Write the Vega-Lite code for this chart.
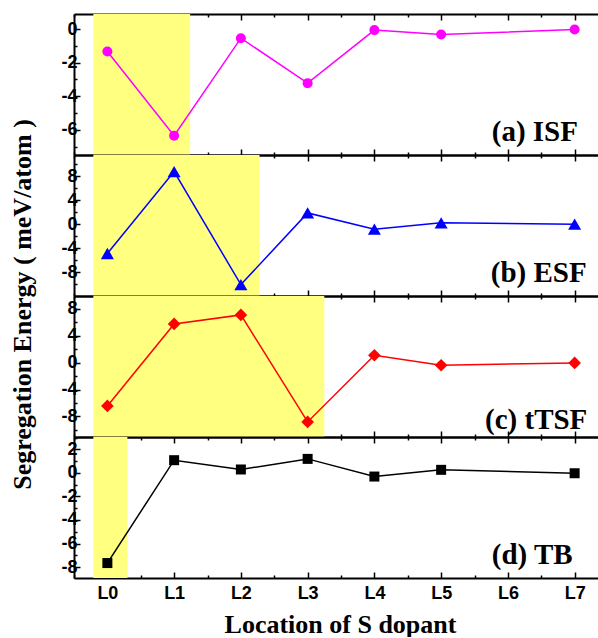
{
  "$schema": "https://vega.github.io/schema/vega-lite/v6.json",
  "autosize": {"type": "pad"},
  "padding": {"left": 8, "top": 13, "right": 0, "bottom": 0},
  "background": "white",
  "spacing": 0,
  "bounds": "flush",
  "config": {
    "view": {"stroke": null},
    "axis": {"grid": false, "domainColor": "black", "domainWidth": 2, "tickColor": "black", "tickWidth": 1.5}
  },
  "datasets": {
    "pts": [
      {"panel": "a", "loc": 0, "value": -1.33}, {"panel": "a", "loc": 1, "value": -6.35}, {"panel": "a", "loc": 2, "value": -0.54}, {"panel": "a", "loc": 3, "value": -3.22}, {"panel": "a", "loc": 4, "value": -0.06}, {"panel": "a", "loc": 5, "value": -0.32}, {"panel": "a", "loc": 7, "value": -0.02},
      {"panel": "b", "loc": 0, "value": -4.9}, {"panel": "b", "loc": 1, "value": 8.77}, {"panel": "b", "loc": 2, "value": -10.1}, {"panel": "b", "loc": 3, "value": 1.88}, {"panel": "b", "loc": 4, "value": -0.83}, {"panel": "b", "loc": 5, "value": 0.22}, {"panel": "b", "loc": 7, "value": 0.0},
      {"panel": "c", "loc": 0, "value": -6.43}, {"panel": "c", "loc": 1, "value": 5.75}, {"panel": "c", "loc": 2, "value": 7.09}, {"panel": "c", "loc": 3, "value": -8.81}, {"panel": "c", "loc": 4, "value": 1.1}, {"panel": "c", "loc": 5, "value": -0.39}, {"panel": "c", "loc": 7, "value": -0.04},
      {"panel": "d", "loc": 0, "value": -7.66}, {"panel": "d", "loc": 1, "value": 1.08}, {"panel": "d", "loc": 2, "value": 0.29}, {"panel": "d", "loc": 3, "value": 1.19}, {"panel": "d", "loc": 4, "value": -0.31}, {"panel": "d", "loc": 5, "value": 0.26}, {"panel": "d", "loc": 7, "value": -0.03}
    ],
    "shade": [
      {"panel": "a", "x0": -0.21, "x1": 1.24},
      {"panel": "b", "x0": -0.21, "x1": 2.28},
      {"panel": "c", "x0": -0.21, "x1": 3.25},
      {"panel": "d", "x0": -0.21, "x1": 0.3}
    ],
    "labels": [
      {"panel": "a", "x": 7.05, "y": -6.65, "label": "(a) ISF"},
      {"panel": "b", "x": 7.18, "y": -9.6, "label": "(b) ESF"},
      {"panel": "c", "x": 7.19, "y": -9.9, "label": "(c) tTSF"},
      {"panel": "d", "x": 6.97, "y": -7.72, "label": "(d) TB"}
    ]
  },
  "vconcat": [
    {
      "width": 526, "height": 141,
      "resolve": {"axis": {"x": "independent", "y": "independent"}},
      "layer": [
        {"data": {"name": "shade"}, "transform": [{"filter": "datum.panel == 'a'"}],
         "mark": {"type": "rect", "color": "#ffff80"},
         "encoding": {
           "x": {"field": "x0", "type": "quantitative", "scale": {"domain": [-0.5, 7.38], "nice": false, "zero": false},
                 "axis": {"orient": "bottom", "values": [-0.5,0,0.5,1,1.5,2,2.5,3,3.5,4,4.5,5,5.5,6,6.5,7], "labels": false, "title": null,
                          "tickSize": {"condition": {"test": "datum.value % 1 === 0", "value": -6}, "value": -3}}},
           "x2": {"field": "x1"}}},
        {"data": {"name": "pts"}, "transform": [{"filter": "datum.panel == 'a'"}],
         "mark": {"type": "line", "color": "#ff00ff", "strokeWidth": 1.5},
         "encoding": {
           "x": {"field": "loc", "type": "quantitative",
                 "axis": {"orient": "top", "values": [-0.5,0,0.5,1,1.5,2,2.5,3,3.5,4,4.5,5,5.5,6,6.5,7], "labels": false, "title": null,
                          "tickSize": {"condition": {"test": "datum.value % 1 === 0", "value": -6}, "value": -3}}},
           "y": {"field": "value", "type": "quantitative", "scale": {"domain": [-7.5, 0.9], "nice": false, "zero": false},
                 "axis": {"orient": "left", "values": [-7,-6,-5,-4,-3,-2,-1,0], "title": null,
                          "labelExpr": "datum.value % 2 === 0 ? '' + datum.value : ''",
                          "labelFont": "Liberation Sans", "labelFontWeight": "bold", "labelFontSize": 18, "labelColor": "black", "labelPadding": 3,
                          "tickSize": {"condition": {"test": "datum.value % 2 === 0", "value": -6}, "value": -3}}}}},
        {"data": {"name": "pts"}, "transform": [{"filter": "datum.panel == 'a'"}],
         "mark": {"type": "point", "shape": "circle", "filled": true, "size": 100, "color": "#ff00ff", "opacity": 1},
         "encoding": {"x": {"field": "loc", "type": "quantitative", "axis": null}, "y": {"field": "value", "type": "quantitative", "axis": null}}},
        {"data": {"name": "labels"}, "transform": [{"filter": "datum.panel == 'a'"}],
         "mark": {"type": "text", "align": "right", "baseline": "alphabetic", "font": "Liberation Serif", "fontWeight": "bold", "fontSize": 29, "color": "black"},
         "encoding": {"x": {"field": "x", "type": "quantitative", "axis": null}, "y": {"field": "y", "type": "quantitative", "axis": null}, "text": {"field": "label"}}}
      ]
    },
    {
      "width": 526, "height": 141,
      "resolve": {"axis": {"x": "independent", "y": "independent"}},
      "layer": [
        {"data": {"name": "shade"}, "transform": [{"filter": "datum.panel == 'b'"}],
         "mark": {"type": "rect", "color": "#ffff80"},
         "encoding": {
           "x": {"field": "x0", "type": "quantitative", "scale": {"domain": [-0.5, 7.38], "nice": false, "zero": false},
                 "axis": {"orient": "bottom", "values": [-0.5,0,0.5,1,1.5,2,2.5,3,3.5,4,4.5,5,5.5,6,6.5,7], "labels": false, "title": null,
                          "tickSize": {"condition": {"test": "datum.value % 1 === 0", "value": -6}, "value": -3}}},
           "x2": {"field": "x1"}}},
        {"data": {"name": "pts"}, "transform": [{"filter": "datum.panel == 'b'"}],
         "mark": {"type": "line", "color": "#0000ff", "strokeWidth": 1.5},
         "encoding": {
           "x": {"field": "loc", "type": "quantitative",
                 "axis": {"orient": "top", "values": [-0.5,0,0.5,1,1.5,2,2.5,3,3.5,4,4.5,5,5.5,6,6.5,7], "labels": false, "title": null,
                          "tickSize": {"condition": {"test": "datum.value % 1 === 0", "value": -6}, "value": -3}}},
           "y": {"field": "value", "type": "quantitative", "scale": {"domain": [-12, 11.55], "nice": false, "zero": false},
                 "axis": {"orient": "left", "values": [-10,-8,-6,-4,-2,0,2,4,6,8,10],
                          "labelExpr": "datum.value % 4 === 0 ? '' + datum.value : ''",
                          "labelFont": "Liberation Sans", "labelFontWeight": "bold", "labelFontSize": 18, "labelColor": "black", "labelPadding": 3,
                          "tickSize": {"condition": {"test": "datum.value % 4 === 0", "value": -6}, "value": -3},
                          "title": "Segregation Energy ( meV/atom )", "titleFont": "Liberation Serif", "titleFontWeight": "bold", "titleFontSize": 26, "titleColor": "black",
                          "titleAngle": 270, "titleX": -44, "titleY": 149, "titleAlign": "center", "titleBaseline": "alphabetic"}}}},
        {"data": {"name": "pts"}, "transform": [{"filter": "datum.panel == 'b'"}],
         "mark": {"type": "point", "shape": "triangle-up", "filled": true, "size": 170, "color": "#0000ff", "opacity": 1},
         "encoding": {"x": {"field": "loc", "type": "quantitative", "axis": null}, "y": {"field": "value", "type": "quantitative", "axis": null}}},
        {"data": {"name": "labels"}, "transform": [{"filter": "datum.panel == 'b'"}],
         "mark": {"type": "text", "align": "right", "baseline": "alphabetic", "font": "Liberation Serif", "fontWeight": "bold", "fontSize": 29, "color": "black"},
         "encoding": {"x": {"field": "x", "type": "quantitative", "axis": null}, "y": {"field": "y", "type": "quantitative", "axis": null}, "text": {"field": "label"}}}
      ]
    },
    {
      "width": 526, "height": 141,
      "resolve": {"axis": {"x": "independent", "y": "independent"}},
      "layer": [
        {"data": {"name": "shade"}, "transform": [{"filter": "datum.panel == 'c'"}],
         "mark": {"type": "rect", "color": "#ffff80"},
         "encoding": {
           "x": {"field": "x0", "type": "quantitative", "scale": {"domain": [-0.5, 7.38], "nice": false, "zero": false},
                 "axis": {"orient": "bottom", "values": [-0.5,0,0.5,1,1.5,2,2.5,3,3.5,4,4.5,5,5.5,6,6.5,7], "labels": false, "title": null,
                          "tickSize": {"condition": {"test": "datum.value % 1 === 0", "value": -6}, "value": -3}}},
           "x2": {"field": "x1"}}},
        {"data": {"name": "pts"}, "transform": [{"filter": "datum.panel == 'c'"}],
         "mark": {"type": "line", "color": "#ff0000", "strokeWidth": 1.5},
         "encoding": {
           "x": {"field": "loc", "type": "quantitative",
                 "axis": {"orient": "top", "values": [-0.5,0,0.5,1,1.5,2,2.5,3,3.5,4,4.5,5,5.5,6,6.5,7], "labels": false, "title": null,
                          "tickSize": {"condition": {"test": "datum.value % 1 === 0", "value": -6}, "value": -3}}},
           "y": {"field": "value", "type": "quantitative", "scale": {"domain": [-11.05, 9.9], "nice": false, "zero": false},
                 "axis": {"orient": "left", "values": [-10,-8,-6,-4,-2,0,2,4,6,8], "title": null,
                          "labelExpr": "datum.value % 4 === 0 ? '' + datum.value : ''",
                          "labelFont": "Liberation Sans", "labelFontWeight": "bold", "labelFontSize": 18, "labelColor": "black", "labelPadding": 3,
                          "tickSize": {"condition": {"test": "datum.value % 4 === 0", "value": -6}, "value": -3}}}}},
        {"data": {"name": "pts"}, "transform": [{"filter": "datum.panel == 'c'"}],
         "mark": {"type": "point", "shape": "diamond", "filled": true, "size": 160, "color": "#ff0000", "opacity": 1},
         "encoding": {"x": {"field": "loc", "type": "quantitative", "axis": null}, "y": {"field": "value", "type": "quantitative", "axis": null}}},
        {"data": {"name": "labels"}, "transform": [{"filter": "datum.panel == 'c'"}],
         "mark": {"type": "text", "align": "right", "baseline": "alphabetic", "font": "Liberation Serif", "fontWeight": "bold", "fontSize": 29, "color": "black"},
         "encoding": {"x": {"field": "x", "type": "quantitative", "axis": null}, "y": {"field": "y", "type": "quantitative", "axis": null}, "text": {"field": "label"}}}
      ]
    },
    {
      "width": 526, "height": 141,
      "resolve": {"axis": {"x": "independent", "y": "independent"}},
      "layer": [
        {"data": {"name": "shade"}, "transform": [{"filter": "datum.panel == 'd'"}],
         "mark": {"type": "rect", "color": "#ffff80"},
         "encoding": {
           "x": {"field": "x0", "type": "quantitative", "scale": {"domain": [-0.5, 7.38], "nice": false, "zero": false},
                 "axis": {"orient": "bottom", "values": [-0.5,0,0.5,1,1.5,2,2.5,3,3.5,4,4.5,5,5.5,6,6.5,7],
                          "labelExpr": "datum.value % 1 === 0 ? 'L' + datum.value : ''",
                          "labelFont": "Liberation Sans", "labelFontWeight": "bold", "labelFontSize": 18, "labelColor": "black", "labelPadding": 12,
                          "tickSize": {"condition": {"test": "datum.value % 1 === 0", "value": -6}, "value": -3},
                          "title": "Location of S dopant", "titleFont": "Liberation Serif", "titleFontWeight": "bold", "titleFontSize": 26, "titleColor": "black",
                          "titleX": 266, "titleY": 54, "titleAlign": "center", "titleBaseline": "alphabetic"}},
           "x2": {"field": "x1"}}},
        {"data": {"name": "pts"}, "transform": [{"filter": "datum.panel == 'd'"}],
         "mark": {"type": "line", "color": "#000000", "strokeWidth": 1.5},
         "encoding": {
           "x": {"field": "loc", "type": "quantitative",
                 "axis": {"orient": "top", "values": [-0.5,0,0.5,1,1.5,2,2.5,3,3.5,4,4.5,5,5.5,6,6.5,7], "labels": false, "title": null,
                          "tickSize": {"condition": {"test": "datum.value % 1 === 0", "value": -6}, "value": -3}}},
           "y": {"field": "value", "type": "quantitative", "scale": {"domain": [-8.93, 3.05], "nice": false, "zero": false},
                 "axis": {"orient": "left", "values": [-8,-7,-6,-5,-4,-3,-2,-1,0,1,2,3], "title": null,
                          "labelExpr": "datum.value % 2 === 0 ? '' + datum.value : ''",
                          "labelFont": "Liberation Sans", "labelFontWeight": "bold", "labelFontSize": 18, "labelColor": "black", "labelPadding": 3,
                          "tickSize": {"condition": {"test": "datum.value % 2 === 0", "value": -6}, "value": -3}}}}},
        {"data": {"name": "pts"}, "transform": [{"filter": "datum.panel == 'd'"}],
         "mark": {"type": "point", "shape": "square", "filled": true, "size": 100, "color": "#000000", "opacity": 1},
         "encoding": {"x": {"field": "loc", "type": "quantitative", "axis": null}, "y": {"field": "value", "type": "quantitative", "axis": null}}},
        {"data": {"name": "labels"}, "transform": [{"filter": "datum.panel == 'd'"}],
         "mark": {"type": "text", "align": "right", "baseline": "alphabetic", "font": "Liberation Serif", "fontWeight": "bold", "fontSize": 29, "color": "black"},
         "encoding": {"x": {"field": "x", "type": "quantitative", "axis": null}, "y": {"field": "y", "type": "quantitative", "axis": null}, "text": {"field": "label"}}}
      ]
    }
  ]
}
